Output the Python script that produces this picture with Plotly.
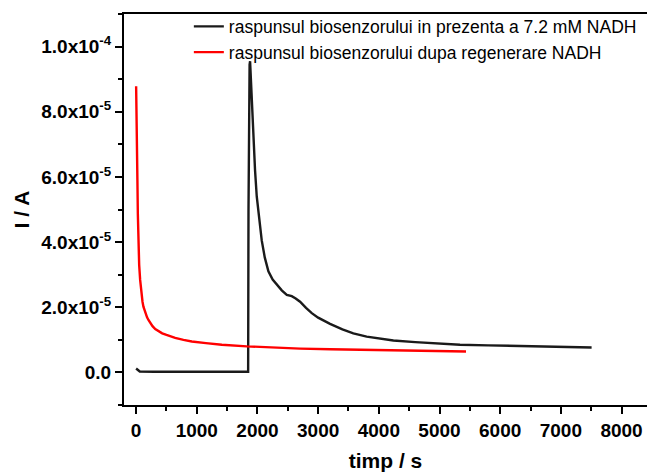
import plotly.graph_objects as go

# Black: response in presence of 7.2 mM NADH (current in microamps)
t_black = [0, 30, 60, 300, 650, 1000, 1500, 1846, 1852, 1860, 1870, 1878, 1890, 1906, 1933,
           1960, 1988, 2030, 2070, 2120, 2180, 2250, 2318, 2400, 2483, 2530, 2565, 2630,
           2702, 2800, 2895, 3000, 3196, 3400, 3580, 3800, 4020, 4240, 4600, 5000, 5338,
           5800, 6436, 7000, 7507]
i_black_uA = [1.2, 0.6, 0.3, 0.2, 0.2, 0.2, 0.2, 0.2, 50, 85, 94.5, 95.5, 90, 82, 71.5,
              62, 54, 46, 40.5, 35.3, 31.0, 28.5, 26.9, 25.2, 23.8, 23.6, 23.4, 22.7,
              21.7, 19.8, 18.2, 16.8, 14.9, 13.2, 12.0, 11.0, 10.4, 9.8, 9.3, 8.9, 8.5,
              8.3, 8.0, 7.8, 7.65]

# Red: response after NADH regeneration (current in microamps)
t_red = [0, 8, 16, 21, 28, 38, 50, 66, 78, 90, 105, 120, 140, 160, 180, 203, 235, 270,
         315, 367, 430, 500, 570, 643, 780, 918, 1150, 1412, 1824, 2300, 2702, 3200,
         3690, 4300, 4900, 5437]
i_red_uA = [87.8, 80, 68, 59, 48.8, 38.6, 33, 28.4, 25.7, 23.5, 21.7, 20.2, 18.9, 17.8,
            16.9, 16.1, 15.1, 14.2, 13.3, 12.6, 12.0, 11.5, 11.0, 10.6, 10.0, 9.5, 9.0,
            8.5, 8.0, 7.6, 7.3, 7.1, 6.95, 6.7, 6.55, 6.4]

y_tickvals = [0, 2e-5, 4e-5, 6e-5, 8e-5, 1e-4]
y_ticktext = ["0.0", "2.0x10<sup>-5</sup>", "4.0x10<sup>-5</sup>", "6.0x10<sup>-5</sup>",
              "8.0x10<sup>-5</sup>", "1.0x10<sup>-4</sup>"]
x_tickvals = [0, 1000, 2000, 3000, 4000, 5000, 6000, 7000, 8000]

name_black = "raspunsul biosenzorului in prezenta a 7.2 mM NADH"
name_red = "raspunsul biosenzorului dupa regenerare NADH"

fig = go.Figure()
fig.add_trace(go.Scatter(x=t_black, y=[v * 1e-6 for v in i_black_uA], mode="lines",
                         name=name_black, line=dict(color="#1a1a1a", width=2.4)))
fig.add_trace(go.Scatter(x=t_red, y=[v * 1e-6 for v in i_red_uA], mode="lines",
                         name=name_red, line=dict(color="#ff0000", width=2.4)))

tickfont = dict(family="Liberation Sans, Arial, sans-serif", size=19, color="black")
fig.update_layout(
    width=647, height=474,
    margin=dict(l=124, r=0, t=14, b=69),
    paper_bgcolor="white", plot_bgcolor="white",
    font=dict(family="Liberation Sans, Arial, sans-serif", color="black"),
    showlegend=True,
    legend=dict(x=0.124, y=1.014, xanchor="left", yanchor="top",
                font=dict(size=17.5, family="Liberation Sans, Arial, sans-serif"),
                bgcolor="rgba(0,0,0,0)", tracegroupgap=0, itemwidth=30),
)
fig.update_xaxes(
    range=[-200, 8420], tickvals=x_tickvals,
    ticktext=["<b>%d</b>" % v for v in x_tickvals],
    ticks="outside", ticklen=7, tickwidth=2, tickcolor="black",
    minor=dict(dtick=500, tick0=0, ticks="outside", ticklen=4, tickwidth=2, tickcolor="black"),
    showline=True, linewidth=2, linecolor="black", mirror=True,
    showgrid=False, zeroline=False, tickfont=tickfont,
    title=dict(text="<b>timp / s</b>", font=dict(size=21), standoff=14),
)
fig.update_yaxes(
    range=[-1e-5, 1.1e-4], tickvals=y_tickvals,
    ticktext=["<b>%s</b>" % s for s in y_ticktext],
    ticks="outside", ticklen=7, tickwidth=2, tickcolor="black",
    minor=dict(dtick=1e-5, tick0=0, ticks="outside", ticklen=4, tickwidth=2, tickcolor="black"),
    showline=True, linewidth=2, linecolor="black",
    showgrid=False, zeroline=False, tickfont=tickfont,
    title=dict(text="<b>I / A</b>", font=dict(size=21), standoff=6),
)

fig.write_html("out.html")
